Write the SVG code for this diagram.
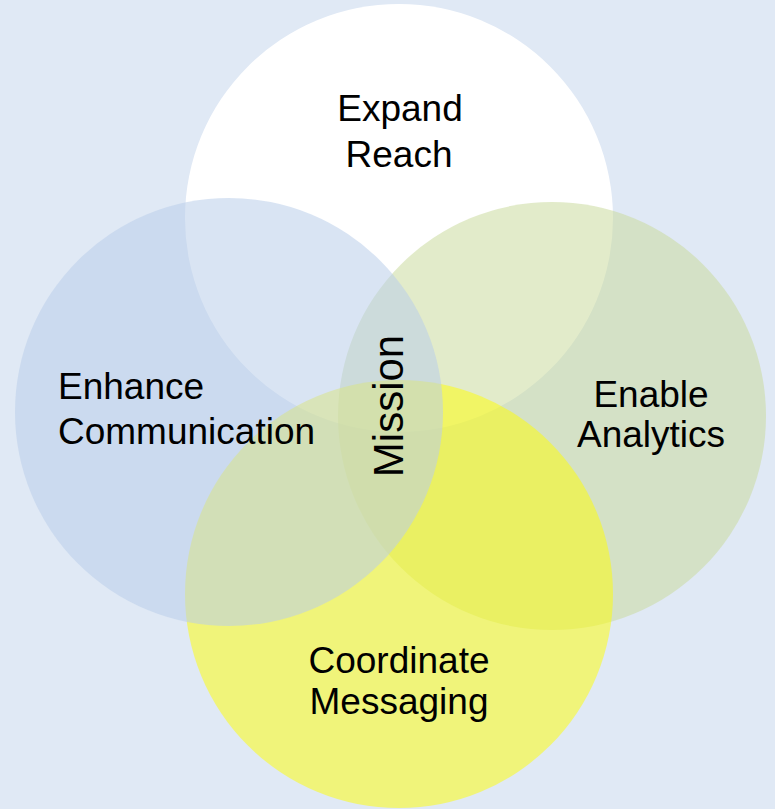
<svg xmlns="http://www.w3.org/2000/svg" width="775" height="809" viewBox="0 0 775 809">
<style>
.lbl{font-family:"Liberation Sans",Arial,sans-serif;font-size:37px;fill:#000;text-anchor:middle}
.left{text-anchor:start}
.mission{font-family:"Liberation Sans",Arial,sans-serif;font-size:42px;fill:#000;text-anchor:middle}
</style>
<rect x="0" y="0" width="775" height="809" fill="#e0e9f5"/>
<g id="expand-reach">
<circle cx="399" cy="218" r="214" fill="#ffffff"/>
</g>
<g id="enable-analytics">
<circle cx="552" cy="416" r="214" fill="#cada9e" fill-opacity="0.55"/>
</g>
<g id="coordinate-messaging">
<circle cx="399" cy="594" r="214" fill="#ffff00" fill-opacity="0.5"/>
</g>
<g id="enhance-communication">
<circle cx="229" cy="412" r="214" fill="#bacee9" fill-opacity="0.55"/>
</g>
<g id="connectors"></g>
<g id="labels">
<text class="lbl" x="400" y="121">Expand</text>
<text class="lbl" x="399" y="167">Reach</text>
<text class="lbl left" x="58" y="399">Enhance</text>
<text class="lbl left" x="58" y="444">Communication</text>
<text class="lbl" x="651" y="407">Enable</text>
<text class="lbl" x="651" y="447">Analytics</text>
<text class="lbl" x="399" y="673">Coordinate</text>
<text class="lbl" x="399" y="714">Messaging</text>
<g id="mission"><text class="mission" transform="translate(403,406) rotate(-90)" x="0" y="0">Mission</text></g>
</g>
</svg>
